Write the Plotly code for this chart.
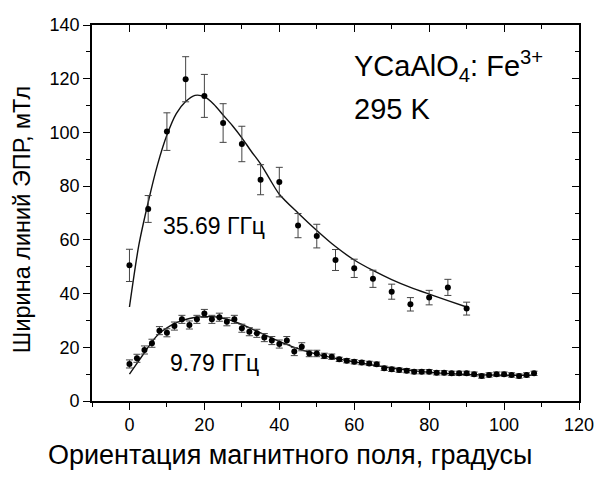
import plotly.graph_objects as go

# ---- data ----
x_hi = [0, 5, 10, 15, 20, 25, 30, 35, 40, 45, 50, 55, 60, 65, 70, 75, 80, 85, 90]
y_hi = [50.5, 71.5, 100.3, 119.8, 113.6, 103.5, 95.7, 82.4, 81.5, 65.3, 61.4,
        52.5, 49.4, 45.5, 40.7, 36.0, 38.5, 42.3, 34.4]
e_hi = [6.0, 5.0, 7.0, 8.4, 8.0, 7.2, 6.6, 5.6, 5.5, 4.5, 4.4, 3.9, 3.4, 3.2,
        2.8, 2.5, 2.7, 3.0, 2.4]

fit_hi_x = [0, 2.5, 5, 7.5, 10, 12.5, 15, 17.5, 20, 22.5, 25, 27.5, 30, 32.5,
            35, 37.5, 40, 45, 50, 55, 60, 65, 70, 75, 80, 85, 90]
fit_hi_y = [35, 58, 74, 88, 99, 107, 111.5, 113.8, 113.3, 110.5, 106.5, 102.5,
            98, 93, 88.3, 82.5, 77, 70, 63.5, 57.5, 52.5, 48.6, 45.2, 42.3,
            39.8, 37.4, 35]

x_lo = [0, 2, 4, 6, 8, 10, 12, 14, 16, 18, 20, 22, 24, 26, 28, 30, 32, 34, 36,
        38, 40, 42, 44, 46, 48, 50, 52, 54, 56, 58, 60, 62, 64, 66, 68, 70, 72,
        74, 76, 78, 80, 82, 84, 86, 88, 90, 92, 94, 96, 98, 100, 102, 104, 106, 108]
y_lo = [13.8, 15.9, 19.0, 21.5, 26.2, 25.4, 27.9, 30.4, 28.3, 30.4, 32.6, 30.4,
        31.2, 29.5, 30.4, 27.1, 25.8, 25.2, 23.6, 22.5, 21.2, 22.5, 18.4, 20.2,
        17.7, 17.7, 16.8, 16.5, 15.5, 15.0, 14.6, 14.3, 14.0, 13.7, 12.2, 11.8,
        11.5, 11.3, 10.9, 10.9, 10.9, 10.5, 10.5, 10.3, 10.3, 10.3, 10.0, 9.3,
        9.7, 10.0, 10.0, 9.7, 9.3, 9.7, 10.3]
e_lo = [1.5, 1.5, 1.5, 1.5, 1.5, 1.5, 1.5, 1.5, 1.5, 1.5, 1.5, 1.5, 1.5, 1.5,
        1.5, 1.5, 1.5, 1.5, 1.5, 1.5, 1.5, 1.5, 1.5, 1.5, 1.2, 1.2, 1.0, 1.0,
        0.8, 0.8, 0.8, 0.8, 0.8, 0.8, 0.8, 0.8, 0.8, 0.8, 0.8, 0.8, 0.8, 0.8,
        0.8, 0.8, 0.8, 0.8, 0.8, 0.8, 0.8, 0.8, 0.8, 0.8, 0.8, 0.8, 0.8]

fit_lo_x = [0, 2, 4, 6, 8, 10, 12, 14, 16, 18, 20, 22, 24, 26, 28, 30, 32, 34,
            36, 38, 40, 44, 48, 52, 56, 60, 64, 68, 72, 76, 80, 84, 88, 92, 96,
            100, 104, 108]
fit_lo_y = [10, 14, 18, 22, 25.2, 27.2, 28.8, 29.9, 30.7, 31.2, 31.4, 31.4,
            31.1, 30.5, 29.6, 28.5, 27.3, 26.0, 24.7, 23.4, 22.2, 20.0, 18.2,
            16.8, 15.6, 14.6, 13.6, 12.7, 11.9, 11.2, 10.7, 10.3, 10.0, 9.8,
            9.7, 9.6, 9.6, 9.6]

x_ticks = [0, 20, 40, 60, 80, 100, 120]
y_ticks = [0, 20, 40, 60, 80, 100, 120, 140]

FONT = "Arial, Liberation Sans, sans-serif"
err_style = dict(type="data", thickness=1, width=3.5, color="#444")

fig = go.Figure()
fig.add_trace(go.Scatter(x=fit_hi_x, y=fit_hi_y, mode="lines",
                         line=dict(color="#111", width=1.4, shape="spline", smoothing=0.8)))
fig.add_trace(go.Scatter(x=fit_lo_x, y=fit_lo_y, mode="lines",
                         line=dict(color="#111", width=1.4, shape="spline", smoothing=0.8)))
fig.add_trace(go.Scatter(x=x_hi, y=y_hi, mode="markers",
                         marker=dict(color="black", size=6),
                         error_y=dict(array=e_hi, **err_style)))
fig.add_trace(go.Scatter(x=x_lo, y=y_lo, mode="markers",
                         marker=dict(color="black", size=6),
                         error_y=dict(array=e_lo, **err_style)))
# dummy trace to attach mirrored axes
fig.add_trace(go.Scatter(x=[None], y=[None], xaxis="x2", yaxis="y2",
                         mode="markers", hoverinfo="skip"))

axis_common = dict(showgrid=False, zeroline=False, showline=True,
                   linecolor="black", linewidth=1.7, tickcolor="black",
                   tickwidth=1.2, ticklen=7)

fig.update_layout(
    width=609, height=477,
    margin=dict(l=92, r=30, t=25, b=76),
    paper_bgcolor="white", plot_bgcolor="white",
    showlegend=False,
    font=dict(family=FONT, color="black"),
    xaxis=dict(range=[-10, 120], tickmode="array", tickvals=x_ticks,
               ticks="outside", tickfont=dict(size=18, family=FONT),
               minor=dict(dtick=10, tick0=0, ticklen=4, ticks="outside",
                          tickcolor="black", tickwidth=1.2),
               **axis_common),
    yaxis=dict(range=[0, 140], tickmode="array", tickvals=y_ticks,
               ticks="outside", tickfont=dict(size=18, family=FONT),
               minor=dict(dtick=10, tick0=0, ticklen=4, ticks="outside",
                          tickcolor="black", tickwidth=1.2),
               **axis_common),
    xaxis2=dict(range=[-10, 120], overlaying="x", side="top", anchor="y2",
                tickmode="array", tickvals=x_ticks, ticks="inside",
                showticklabels=False,
                minor=dict(dtick=10, tick0=0, ticklen=4, ticks="inside",
                           tickcolor="black", tickwidth=1.2),
                **axis_common),
    yaxis2=dict(range=[0, 140], overlaying="y", side="right", anchor="x2",
                tickmode="array", tickvals=y_ticks, ticks="inside",
                showticklabels=False,
                minor=dict(dtick=10, tick0=0, ticklen=4, ticks="inside",
                           tickcolor="black", tickwidth=1.2),
                **axis_common),
    annotations=[
        dict(text="Ориентация магнитного поля, градусы", xref="paper", yref="paper",
             x=0.4066, y=-0.143, xanchor="center", yanchor="middle",
             showarrow=False, font=dict(size=27, family=FONT)),
        dict(text="Ширина линий ЭПР, мТл", xref="paper", yref="paper",
             x=-0.1437, y=0.481, xanchor="center", yanchor="middle",
             textangle=-90, showarrow=False, font=dict(size=23.5, family=FONT)),
        dict(text="YCaAlO<sub>4</sub>: Fe<sup>3+</sup>", xref="x", yref="y",
             x=59.5, y=124.7, xanchor="left", yanchor="middle",
             showarrow=False, font=dict(size=29, family=FONT)),
        dict(text="295 K", xref="x", yref="y",
             x=59.5, y=108.7, xanchor="left", yanchor="middle",
             showarrow=False, font=dict(size=29, family=FONT)),
        dict(text="35.69 ГГц", xref="x", yref="y",
             x=8.5, y=65.2, xanchor="left", yanchor="middle",
             showarrow=False, font=dict(size=23, family=FONT)),
        dict(text="9.79 ГГц", xref="x", yref="y",
             x=10.4, y=14.1, xanchor="left", yanchor="middle",
             showarrow=False, font=dict(size=23, family=FONT)),
    ],
)

fig.write_html("out.html")
